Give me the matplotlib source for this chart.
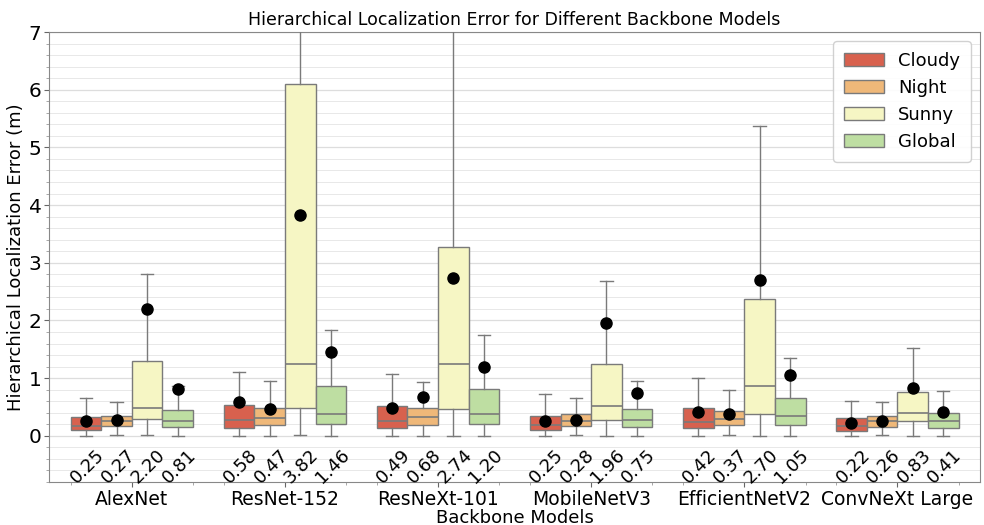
import matplotlib
matplotlib.use('Agg')
import matplotlib.pyplot as plt
from matplotlib.patches import Patch
from matplotlib.ticker import MultipleLocator, FixedLocator

models = ['AlexNet', 'ResNet-152', 'ResNeXt-101', 'MobileNetV3', 'EfficientNetV2', 'ConvNeXt Large']
conditions = ['Cloudy', 'Night', 'Sunny', 'Global']

# per condition, one value per model
q1 = {
    'Cloudy': [0.10, 0.13, 0.13, 0.10, 0.13, 0.09],
    'Night':  [0.17, 0.19, 0.19, 0.17, 0.19, 0.16],
    'Sunny':  [0.29, 0.49, 0.47, 0.28, 0.37, 0.26],
    'Global': [0.155, 0.20, 0.20, 0.15, 0.185, 0.14],
}
medians = {
    'Cloudy': [0.17, 0.28, 0.265, 0.19, 0.24, 0.17],
    'Night':  [0.26, 0.31, 0.32, 0.26, 0.29, 0.25],
    'Sunny':  [0.48, 1.25, 1.25, 0.51, 0.86, 0.40],
    'Global': [0.265, 0.37, 0.37, 0.28, 0.34, 0.25],
}
q3 = {
    'Cloudy': [0.32, 0.53, 0.51, 0.35, 0.48, 0.30],
    'Night':  [0.35, 0.49, 0.49, 0.37, 0.43, 0.345],
    'Sunny':  [1.30, 6.10, 3.28, 1.25, 2.37, 0.76],
    'Global': [0.44, 0.86, 0.82, 0.47, 0.655, 0.40],
}
whisker_lo = {
    'Cloudy': [0.0, 0.0, 0.0, 0.0, 0.0, 0.0],
    'Night':  [0.02, 0.0, 0.0, 0.02, 0.02, 0.02],
    'Sunny':  [0.02, 0.02, 0.0, 0.0, 0.0, 0.0],
    'Global': [0.0, 0.0, 0.0, 0.0, 0.0, 0.0],
}
whisker_hi = {
    'Cloudy': [0.66, 1.10, 1.07, 0.72, 1.01, 0.60],
    'Night':  [0.59, 0.95, 0.94, 0.655, 0.80, 0.585],
    'Sunny':  [2.81, 9.5, 8.0, 2.69, 5.37, 1.52],
    'Global': [0.86, 1.83, 1.75, 0.95, 1.35, 0.78],
}
means = {
    'Cloudy': [0.25, 0.58, 0.49, 0.25, 0.42, 0.22],
    'Night':  [0.27, 0.47, 0.68, 0.28, 0.37, 0.26],
    'Sunny':  [2.20, 3.82, 2.74, 1.96, 2.70, 0.83],
    'Global': [0.81, 1.46, 1.20, 0.75, 1.05, 0.41],
}

colors = {
    'Cloudy': '#d8614e',
    'Night': '#efb879',
    'Sunny': '#f6f6c4',
    'Global': '#bedea2',
}
edge = '#7a7a7a'

fig = plt.figure(figsize=(9.84, 5.25), dpi=100)
ax = fig.add_axes([0.050, 0.082, 0.946, 0.857])

box_w = 0.2
offsets = [-0.3, -0.1, 0.1, 0.3]

for k, cond in enumerate(conditions):
    stats = []
    positions = []
    for i in range(len(models)):
        stats.append({
            'q1': q1[cond][i], 'med': medians[cond][i], 'q3': q3[cond][i],
            'whislo': whisker_lo[cond][i], 'whishi': whisker_hi[cond][i],
            'mean': means[cond][i], 'fliers': [],
        })
        positions.append(i + offsets[k])
    ax.bxp(stats, positions=positions, widths=box_w, patch_artist=True,
           showmeans=True, showfliers=False, capwidths=0.08,
           boxprops=dict(facecolor=colors[cond], edgecolor=edge, linewidth=1.0),
           medianprops=dict(color=edge, linewidth=1.2),
           whiskerprops=dict(color=edge, linewidth=1.0),
           capprops=dict(color=edge, linewidth=1.0),
           meanprops=dict(marker='o', markerfacecolor='black', markeredgecolor='black',
                          markersize=8), zorder=3)
    for i, pos in enumerate(positions):
        ax.text(pos + 0.01, -0.17, f'{means[cond][i]:.2f}', rotation=45,
                ha='center', va='top', fontsize=13, color='black')

ax.set_xlim(-0.54, 5.54)
ax.set_ylim(-0.8, 7)
ax.set_xticks(range(len(models)))
ax.set_xticklabels(models, fontsize=13.5)
minor_x = []
for i in range(len(models)):
    minor_x += [i - 0.4, i + 0.4]
ax.xaxis.set_minor_locator(FixedLocator(minor_x))
ax.yaxis.set_major_locator(MultipleLocator(1))
ax.yaxis.set_minor_locator(MultipleLocator(0.2))
ax.tick_params(axis='y', labelsize=14.5, pad=2)
ax.tick_params(axis='x', pad=2)
ax.tick_params(which='major', length=3.5, colors='#666666', labelcolor='black')
ax.tick_params(which='minor', length=2, colors='#999999')
ax.grid(True, axis='y', which='major', color='#dddddd', linewidth=0.9, zorder=0)
ax.grid(True, axis='y', which='minor', color='#e8e8e8', linewidth=0.7, zorder=0)
ax.set_axisbelow(True)
for sp in ax.spines.values():
    sp.set_color('#888888')

ax.set_title('Hierarchical Localization Error for Different Backbone Models', fontsize=12.5, pad=5)
ax.set_xlabel('Backbone Models', fontsize=13, labelpad=0)
ax.set_ylabel('Hierarchical Localization Error (m)', fontsize=13, labelpad=3)

handles = [Patch(facecolor=colors[c], edgecolor=edge, label=c) for c in conditions]
ax.legend(handles=handles, loc='upper right', fontsize=13, framealpha=0.9,
          handlelength=2.2, borderpad=0.6)

fig.savefig('out.png', dpi=100)
